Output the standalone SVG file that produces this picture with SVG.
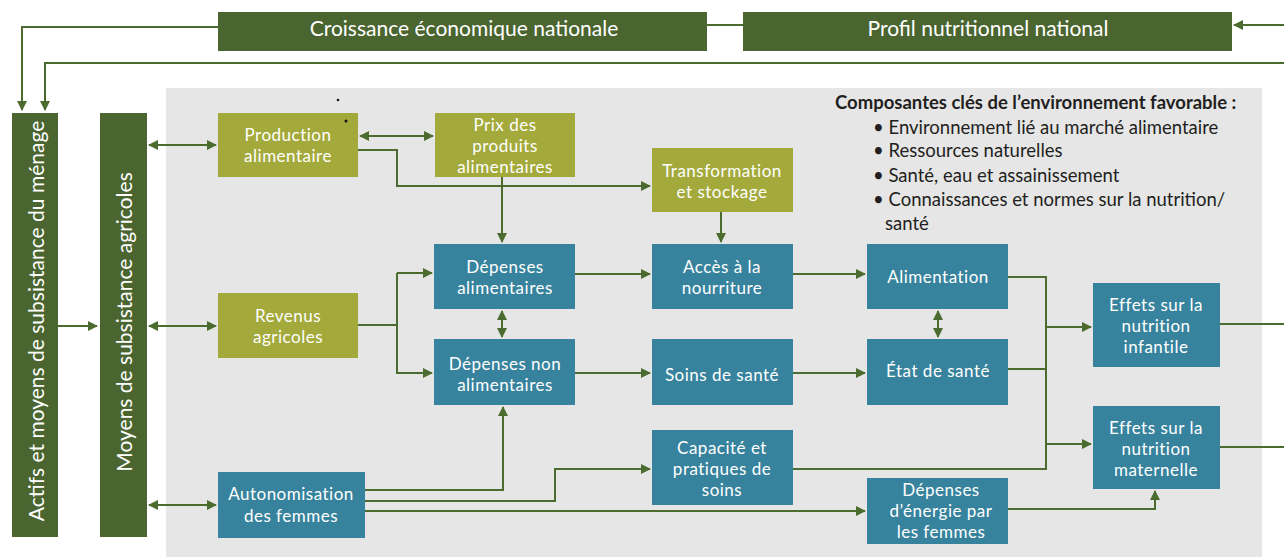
<svg xmlns="http://www.w3.org/2000/svg" width="1284" height="557" viewBox="0 0 1284 557">
  <defs>
    <marker id="arr" viewBox="0 0 10 10" refX="9" refY="5" markerWidth="10" markerHeight="10" markerUnits="userSpaceOnUse" orient="auto-start-reverse">
      <path d="M0,0 L10,5 L0,10 Z" fill="#4b6b2f"/>
    </marker>
    <style>
      .bg { fill: #e6e6e6; }
      .dark { fill: #4a652f; }
      .olive { fill: #a3aa3b; }
      .teal { fill: #37839d; }
      .lbl { font-family: Lato, "Open Sans", sans-serif; font-size: 17px; letter-spacing: 0.5px; fill: #ffffff; text-anchor: middle; dominant-baseline: central; }
      .title { font-family: Lato, "Open Sans", sans-serif; font-size: 21px; fill: #ffffff; text-anchor: middle; dominant-baseline: central; }
      .vert { font-family: Lato, "Open Sans", sans-serif; font-size: 21px; fill: #ffffff; text-anchor: middle; dominant-baseline: central; }
      .legend { font-family: Lato, "Open Sans", sans-serif; font-size: 18.5px; fill: #231f20; dominant-baseline: central; }
      .legend-h { font-weight: bold; }
      .c { fill: none; stroke: #4b6b2f; stroke-width: 2; }
      .a { marker-end: url(#arr); }
      .b { marker-start: url(#arr); marker-end: url(#arr); }
    </style>
  </defs>

  <!-- enabling environment panel -->
  <rect class="bg" x="166" y="88" width="1096" height="469"/>

  <g id="legend">
    <text class="legend legend-h" x="835" y="102">Composantes clés de l’environnement favorable :</text>
    <text class="legend" x="873" y="127">• Environnement lié au marché alimentaire</text>
    <text class="legend" x="873" y="150">• Ressources naturelles</text>
    <text class="legend" x="873" y="175">• Santé, eau et assainissement</text>
    <text class="legend" x="873" y="199">• Connaissances et normes sur la nutrition/</text>
    <text class="legend" x="885" y="223">santé</text>
  </g>

  <!-- connectors -->
  <g id="connectors">
    <path class="c a" d="M218,27 H22 V110"/>
    <path class="c a" d="M1284,63 H45 V110"/>
    <path class="c" d="M707,25 H743"/>
    <path class="c a" d="M1284,25 H1234"/>
    <path class="c a" d="M58,326 H97"/>
    <path class="c b" d="M149,145 H216"/>
    <path class="c b" d="M149,326 H216"/>
    <path class="c b" d="M149,505 H216"/>
    <path class="c b" d="M360,136 H433"/>
    <path class="c a" d="M358,150 H397 V186 H650"/>
    <path class="c a" d="M502,177 V242"/>
    <path class="c a" d="M721,212 V242"/>
    <path class="c" d="M358,325 H397"/>
    <path class="c a" d="M397,273 V373 H432"/>
    <path class="c a" d="M397,273 H432"/>
    <path class="c b" d="M502,311 V337"/>
    <path class="c a" d="M575,274 H650"/>
    <path class="c a" d="M575,373 H650"/>
    <path class="c a" d="M793,274 H865"/>
    <path class="c a" d="M793,373 H865"/>
    <path class="c b" d="M938,311 V337"/>
    <path class="c a" d="M365,490 H503 V407"/>
    <path class="c a" d="M365,501 H555 V469 H650"/>
    <path class="c a" d="M365,511 H865"/>
    <path class="c" d="M1008,277 H1046 V469 H793"/>
    <path class="c" d="M1008,369 H1046"/>
    <path class="c a" d="M1046,327 H1091"/>
    <path class="c a" d="M1046,444 H1091"/>
    <path class="c a" d="M1008,509 H1155 V491"/>
    <path class="c" d="M1220,324 H1284"/>
    <path class="c" d="M1220,447 H1284"/>
  </g>

  <g id="croissance">
    <rect class="dark" x="218" y="12" width="489" height="39"/>
    <text class="title" x="464" y="27">Croissance économique nationale</text>
  </g>
  <g id="profil">
    <rect class="dark" x="743" y="12" width="489" height="39"/>
    <text class="title" x="988" y="27">Profil nutritionnel national</text>
  </g>

  <g id="actifs">
    <rect class="dark" x="12" y="113" width="46" height="424"/>
    <text class="vert" transform="translate(35,321) rotate(-90)">Actifs et moyens de subsistance du ménage</text>
  </g>
  <g id="moyens-agricoles">
    <rect class="dark" x="100" y="113" width="47" height="424"/>
    <text class="vert" transform="translate(123,322) rotate(-90)">Moyens de subsistance agricoles</text>
  </g>

  <g id="production">
    <rect class="olive" x="218" y="113" width="140" height="64"/>
    <text class="lbl" x="288" y="134">Production</text>
    <text class="lbl" x="288" y="155">alimentaire</text>
  </g>
  <circle cx="338" cy="100" r="1.3" fill="#111"/>
  <circle cx="346" cy="121" r="1.5" fill="#111"/>

  <g id="prix">
    <rect class="olive" x="435" y="113" width="140" height="64"/>
    <text class="lbl" x="505" y="124">Prix des</text>
    <text class="lbl" x="505" y="145">produits</text>
    <text class="lbl" x="505" y="166">alimentaires</text>
  </g>
  <g id="transformation">
    <rect class="olive" x="652" y="148" width="141" height="64"/>
    <text class="lbl" x="722" y="170">Transformation</text>
    <text class="lbl" x="722" y="191">et stockage</text>
  </g>
  <g id="revenus">
    <rect class="olive" x="218" y="293" width="140" height="65"/>
    <text class="lbl" x="288" y="315">Revenus</text>
    <text class="lbl" x="288" y="336">agricoles</text>
  </g>
  <g id="autonomisation">
    <rect class="teal" x="218" y="472" width="147" height="66"/>
    <text class="lbl" x="291" y="493">Autonomisation</text>
    <text class="lbl" x="291" y="515">des femmes</text>
  </g>
  <g id="depenses-alim">
    <rect class="teal" x="434" y="244" width="141" height="65"/>
    <text class="lbl" x="505" y="266">Dépenses</text>
    <text class="lbl" x="505" y="287">alimentaires</text>
  </g>
  <g id="depenses-non-alim">
    <rect class="teal" x="434" y="339" width="141" height="66"/>
    <text class="lbl" x="505" y="363">Dépenses non</text>
    <text class="lbl" x="505" y="384">alimentaires</text>
  </g>
  <g id="acces">
    <rect class="teal" x="652" y="244" width="141" height="65"/>
    <text class="lbl" x="722" y="266">Accès à la</text>
    <text class="lbl" x="722" y="287">nourriture</text>
  </g>
  <g id="soins-sante">
    <rect class="teal" x="652" y="339" width="141" height="66"/>
    <text class="lbl" x="722" y="374">Soins de santé</text>
  </g>
  <g id="capacite">
    <rect class="teal" x="652" y="430" width="141" height="75"/>
    <text class="lbl" x="722" y="447">Capacité et</text>
    <text class="lbl" x="722" y="468">pratiques de</text>
    <text class="lbl" x="722" y="489">soins</text>
  </g>
  <g id="alimentation">
    <rect class="teal" x="867" y="244" width="141" height="65"/>
    <text class="lbl" x="938" y="276">Alimentation</text>
  </g>
  <g id="etat-sante">
    <rect class="teal" x="867" y="339" width="141" height="66"/>
    <text class="lbl" x="938" y="370">État de santé</text>
  </g>
  <g id="depenses-energie">
    <rect class="teal" x="867" y="478" width="141" height="66"/>
    <text class="lbl" x="941" y="489">Dépenses</text>
    <text class="lbl" x="941" y="510">d’énergie par</text>
    <text class="lbl" x="941" y="531">les femmes</text>
  </g>
  <g id="effets-infantile">
    <rect class="teal" x="1093" y="283" width="127" height="84"/>
    <text class="lbl" x="1156" y="304">Effets sur la</text>
    <text class="lbl" x="1156" y="325">nutrition</text>
    <text class="lbl" x="1156" y="346">infantile</text>
  </g>
  <g id="effets-maternelle">
    <rect class="teal" x="1093" y="406" width="127" height="83"/>
    <text class="lbl" x="1156" y="427">Effets sur la</text>
    <text class="lbl" x="1156" y="448">nutrition</text>
    <text class="lbl" x="1156" y="469">maternelle</text>
  </g>
</svg>
